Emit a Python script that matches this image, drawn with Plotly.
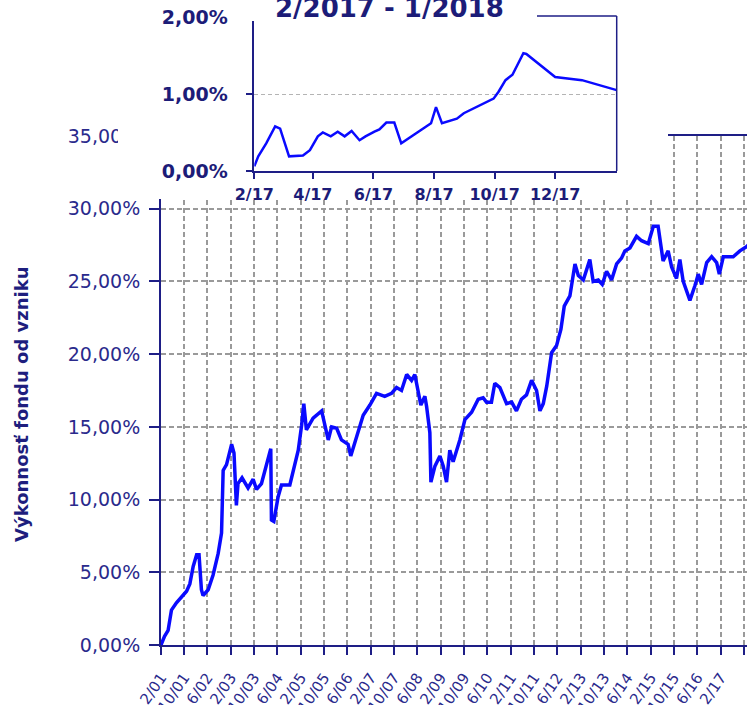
import plotly.graph_objects as go

# ---------------- data ----------------
main_dates = [
    "2001-02-01", "2001-03-10", "2001-04-16", "2001-05-21", "2001-07-12", "2001-09-04",
    "2001-10-26", "2001-11-29", "2002-01-03", "2002-02-08", "2002-03-05", "2002-03-30",
    "2002-04-16", "2002-06-08", "2002-07-29", "2002-09-21", "2002-10-26", "2002-11-12",
    "2002-12-17", "2003-02-08", "2003-03-05", "2003-03-30", "2003-04-16", "2003-05-28",
    "2003-07-30", "2003-09-21", "2003-10-26", "2003-12-17", "2004-02-08", "2004-03-23",
    "2004-03-30", "2004-04-24", "2004-06-08", "2004-07-13", "2004-10-08", "2004-11-12",
    "2005-01-04", "2005-02-08", "2005-03-03", "2005-03-30", "2005-06-08", "2005-09-05",
    "2005-11-13", "2005-12-18", "2006-02-09", "2006-03-31", "2006-06-08", "2006-07-06",
    "2006-09-05", "2006-11-13", "2007-01-22", "2007-04-01", "2007-06-26", "2007-09-05",
    "2007-10-27", "2007-12-18", "2008-02-10", "2008-04-01", "2008-05-05", "2008-06-09",
    "2008-07-07", "2008-08-18", "2008-09-05", "2008-10-09", "2008-10-20", "2008-12-01",
    "2009-01-22", "2009-02-26", "2009-04-01", "2009-05-05", "2009-06-09", "2009-08-18",
    "2009-10-10", "2009-12-19", "2010-02-26", "2010-04-18", "2010-05-23", "2010-07-14",
    "2010-08-18", "2010-10-10", "2010-12-19", "2011-02-10", "2011-04-01", "2011-05-23",
    "2011-07-15", "2011-09-06", "2011-10-28", "2011-12-02", "2012-01-06", "2012-02-11",
    "2012-04-02", "2012-05-24", "2012-07-08", "2012-08-12", "2012-10-10", "2012-12-02",
    "2013-01-06", "2013-02-27", "2013-05-06", "2013-06-10", "2013-08-02", "2013-09-13",
    "2013-10-28", "2013-12-19", "2014-02-10", "2014-04-02", "2014-05-07", "2014-06-29",
    "2014-08-20", "2014-09-06", "2014-10-28", "2015-01-06", "2015-02-28", "2015-04-19",
    "2015-05-24", "2015-06-10", "2015-08-02", "2015-09-07", "2015-10-28", "2015-12-02",
    "2016-01-06", "2016-02-11", "2016-03-16", "2016-05-07", "2016-06-11", "2016-07-16",
    "2016-09-07", "2016-10-29", "2016-12-20", "2017-01-17", "2017-02-28", "2017-06-11",
    "2017-08-20", "2017-10-30", "2017-12-15", "2018-01-31",
]
main_values = [
    0.0, 0.6, 1.0, 2.4, 2.9, 3.3,
    3.7, 4.2, 5.4, 6.2, 6.2, 3.8,
    3.4, 3.8, 4.8, 6.3, 7.7, 12.0,
    12.4, 13.8, 13.2, 9.6, 11.1, 11.5,
    10.8, 11.4, 10.7, 11.1, 12.5, 13.5,
    8.6, 8.5, 10.2, 11.0, 11.0, 12.0,
    13.4, 15.1, 16.6, 14.8, 15.6, 16.1,
    14.1, 15.0, 14.9, 14.1, 13.8, 13.0,
    14.3, 15.8, 16.5, 17.3, 17.1, 17.3,
    17.7, 17.5, 18.6, 18.2, 18.6, 17.5,
    16.5, 17.1, 16.4, 14.6, 11.2, 12.3,
    13.0, 12.3, 11.2, 13.4, 12.6, 14.1,
    15.5, 16.0, 16.9, 17.0, 16.7, 16.7,
    18.0, 17.7, 16.6, 16.7, 16.1, 16.9,
    17.2, 18.2, 17.5, 16.1, 16.6, 17.8,
    20.1, 20.6, 21.7, 23.3, 24.0, 26.2,
    25.4, 25.1, 26.5, 25.0, 25.1, 24.8,
    25.7, 25.1, 26.2, 26.6, 27.1, 27.3,
    28.0, 28.1, 27.8, 27.6, 28.8, 28.8,
    27.2, 26.4, 27.1, 26.0, 25.2, 26.5,
    25.0, 24.3, 23.7, 24.7, 25.5, 24.8,
    26.3, 26.7, 26.3, 25.5, 26.7, 26.7,
    27.1, 27.4, 27.7, 27.6,
]

main_tick_dates = [
    "2001-02-01", "2001-10-01", "2002-06-01", "2003-02-01", "2003-10-01", "2004-06-01",
    "2005-02-01", "2005-10-01", "2006-06-01", "2007-02-01", "2007-10-01", "2008-06-01",
    "2009-02-01", "2009-10-01", "2010-06-01", "2011-02-01", "2011-10-01", "2012-06-01",
    "2013-02-01", "2013-10-01", "2014-06-01", "2015-02-01", "2015-10-01", "2016-06-01",
    "2017-02-01", "2017-10-01",
]
main_tick_labels = [
    "2/01", "10/01", "6/02", "2/03", "10/03", "6/04", "2/05", "10/05", "6/06", "2/07",
    "10/07", "6/08", "2/09", "10/09", "6/10", "2/11", "10/11", "6/12", "2/13", "10/13",
    "6/14", "2/15", "10/15", "6/16", "2/17", "10/17",
]
main_y_ticks = [0, 5, 10, 15, 20, 25, 30, 35]
main_y_labels = ["0,00%", "5,00%", "10,00%", "15,00%", "20,00%", "25,00%", "30,00%", "35,00%"]

inset_dates = [
    "2017-02-01", "2017-02-05", "2017-02-13", "2017-02-22", "2017-02-27", "2017-03-08",
    "2017-03-22", "2017-03-29", "2017-04-06", "2017-04-11", "2017-04-19", "2017-04-26",
    "2017-05-03", "2017-05-10", "2017-05-18", "2017-05-24", "2017-06-02", "2017-06-07",
    "2017-06-14", "2017-06-22", "2017-06-29", "2017-07-29", "2017-08-03", "2017-08-09",
    "2017-08-24", "2017-08-31", "2017-09-30", "2017-10-05", "2017-10-12", "2017-10-19",
    "2017-10-30", "2017-11-02", "2017-12-01", "2017-12-28", "2018-02-01",
]
inset_values = [
    0.06, 0.19, 0.36, 0.58, 0.55, 0.19,
    0.20, 0.27, 0.45, 0.50, 0.45, 0.51,
    0.45, 0.52, 0.40, 0.45, 0.51, 0.54,
    0.63, 0.63, 0.36, 0.62, 0.83, 0.62,
    0.68, 0.75, 0.94, 1.03, 1.18, 1.25,
    1.53, 1.52, 1.22, 1.18, 1.05,
]
inset_tick_dates = ["2017-02-01", "2017-04-01", "2017-06-01", "2017-08-01", "2017-10-01", "2017-12-01"]
inset_tick_labels = ["2/17", "4/17", "6/17", "8/17", "10/17", "12/17"]
inset_y_ticks = [0, 1, 2]
inset_y_labels = ["0,00%", "1,00%", "2,00%"]

inset_title = "2/2017 - 1/2018"
y_title = "Výkonnosť fondu od vzniku"

# ---------------- layout helpers ----------------
W, H = 747, 705
def fx(px):
    return px / W
def fy(py):
    return 1 - py / H

NAVY = "#1e1e86"
TEXT = "#2a2a8c"
GRID = "#9a9a9a"
LINE = "#0a0aff"
FONT = "DejaVu Sans"

fig = go.Figure()

fig.add_trace(go.Scatter(
    x=main_dates, y=main_values, mode="lines",
    line=dict(color=LINE, width=3.5), xaxis="x", yaxis="y",
    showlegend=False, hoverinfo="skip",
))
# empty subplot acting as white cover for the inset area
fig.add_trace(go.Scatter(
    x=[None], y=[None], mode="lines", xaxis="x2", yaxis="y2",
    showlegend=False, hoverinfo="skip",
))
fig.add_trace(go.Scatter(
    x=inset_dates, y=inset_values, mode="lines",
    line=dict(color=LINE, width=2.5), xaxis="x3", yaxis="y3",
    showlegend=False, hoverinfo="skip",
))

fig.update_layout(
    width=W, height=H,
    margin=dict(l=0, r=0, t=0, b=0, autoexpand=False),
    paper_bgcolor="white", plot_bgcolor="white",
    font=dict(family=FONT, color=TEXT),
    xaxis=dict(
        domain=[fx(161), 1.0], anchor="y", type="date", automargin=False,
        range=["2001-02-01", "2017-11-02"],
        tickmode="array", tickvals=main_tick_dates, ticktext=main_tick_labels,
        tickangle=-55, tickfont=dict(family=FONT, size=15, color=TEXT),
        ticks="outside", ticklen=8, tickwidth=2, tickcolor=NAVY,
        showline=True, linecolor=NAVY, linewidth=2, mirror=True,
        showgrid=True, gridcolor=GRID, gridwidth=1.5, griddash="5px,3px",
        zeroline=False, ticklabelstandoff=8,
    ),
    yaxis=dict(
        domain=[fy(645), fy(136)], anchor="x", automargin=False,
        range=[0, 35],
        tickmode="array", tickvals=main_y_ticks, ticktext=main_y_labels,
        tickfont=dict(family=FONT, size=19, color=TEXT),
        ticks="outside", ticklen=10, tickwidth=2, tickcolor=NAVY,
        showline=True, linecolor=NAVY, linewidth=2,
        showgrid=True, gridcolor=GRID, gridwidth=1.5, griddash="5px,3px",
        zeroline=False, ticklabelstandoff=5,
    ),
    xaxis2=dict(domain=[fx(118), fx(668)], anchor="y2", visible=False, range=[0, 1], automargin=False),
    yaxis2=dict(domain=[fy(199), 1.0], anchor="x2", visible=False, range=[0, 1], automargin=False),
    xaxis3=dict(
        domain=[fx(254.3), fx(616.7)], anchor="y3", type="date", automargin=False,
        range=["2017-02-01", "2018-02-01"],
        tickmode="array", tickvals=inset_tick_dates, ticktext=inset_tick_labels,
        tickangle=0, tickfont=dict(family=FONT, size=16, color="#1c1c78", weight="bold"),
        ticks="outside", ticklen=6, tickwidth=1.5, tickcolor=NAVY,
        showline=True, linecolor=NAVY, linewidth=1.5,
        showgrid=False, zeroline=False, ticklabelstandoff=2,
    ),
    yaxis3=dict(
        domain=[fy(171), fy(17)], anchor="x3", automargin=False,
        range=[0, 2.0001],
        tickmode="array", tickvals=inset_y_ticks, ticktext=inset_y_labels,
        tickfont=dict(family=FONT, size=19, color="#1c1c78", weight="bold"),
        ticks="outside", ticklen=7, tickwidth=1.5, tickcolor=NAVY,
        showline=True, linecolor=NAVY, linewidth=1.5,
        showgrid=True, gridcolor="#b4b4b4", gridwidth=1, griddash="4px,3px",
        zeroline=False, ticklabelstandoff=14,
    ),
    shapes=[
        # white box behind the inset title
        dict(type="rect", xref="paper", yref="paper", layer="above",
             x0=fx(240), x1=fx(537), y0=fy(21), y1=1.0,
             fillcolor="white", line=dict(width=0)),
        # inset frame: right and partial top
        dict(type="line", xref="paper", yref="paper", layer="above",
             x0=fx(616.7), x1=fx(616.7), y0=fy(171), y1=fy(16),
             line=dict(color=NAVY, width=1.5)),
        dict(type="line", xref="paper", yref="paper", layer="above",
             x0=fx(537), x1=fx(616.7), y0=fy(16), y1=fy(16),
             line=dict(color=NAVY, width=1.5)),
    ],
    annotations=[
        dict(text=inset_title, xref="paper", yref="paper",
             x=fx(389), y=fy(8), xanchor="center", yanchor="middle",
             showarrow=False,
             font=dict(family=FONT, size=26, color="#1c1c78", weight="bold")),
        dict(text=y_title, xref="paper", yref="paper",
             x=fx(21), y=fy(404), xanchor="center", yanchor="middle",
             textangle=-90, showarrow=False,
             font=dict(family=FONT, size=18, color="#1e1e7e", weight="bold")),
    ],
)

fig.write_html(
    "out.html",
    config={"displayModeBar": False},
    post_script="document.body.style.margin='0';document.body.style.overflow='hidden';",
)
